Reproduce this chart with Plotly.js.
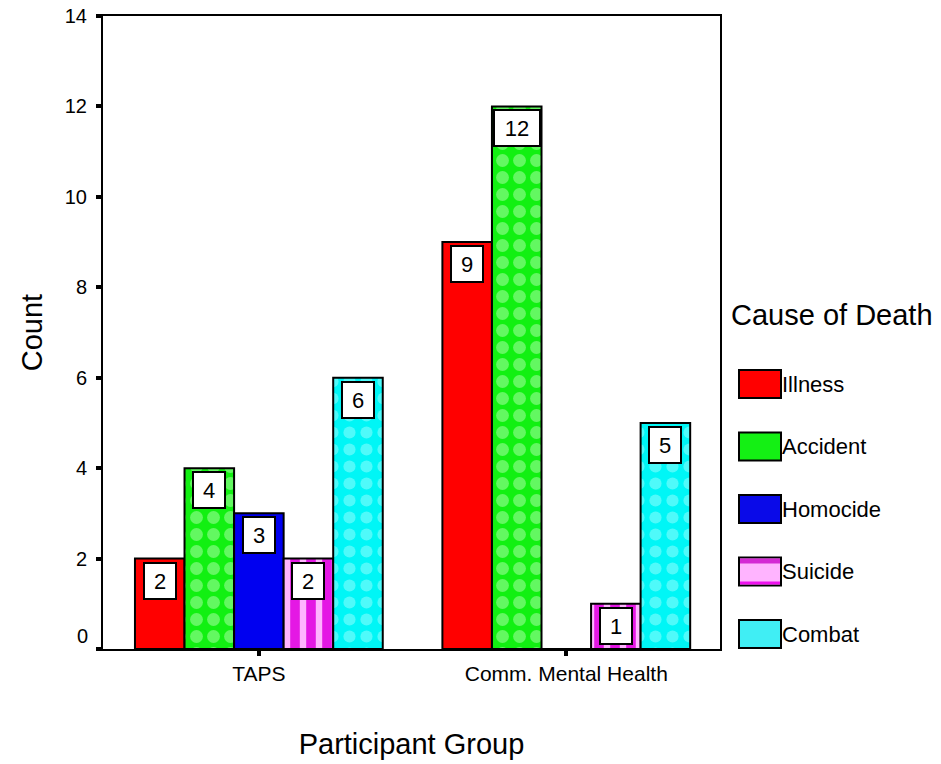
<!DOCTYPE html>
<html>
<head>
<meta charset="utf-8">
<script src="https://cdn.plot.ly/plotly-3.0.1.min.js"></script>
<style>
  html, body { margin: 0; padding: 0; background: #ffffff; }
  #chart { width: 941px; height: 764px; }
</style>
</head>
<body>
<div id="chart"></div>
<script>
// Participant groups on the x axis
const groups = ['TAPS', 'Comm. Mental Health'];

// Causes of death (one bar series each)
const causes = ['Illness', 'Accident', 'Homocide', 'Suicide', 'Combat'];

// Counts per group, one array per cause
const illness  = [2, 9];
const accident = [4, 12];
const homocide = [3, 0];
const suicide  = [2, 1];
const combat   = [6, 5];

// Y axis ticks
const yTickVals = [0, 2, 4, 6, 8, 10, 12, 14];

const series = [illness, accident, homocide, suicide, combat];

// Fill styles per cause
const styles = [
  { color: '#ff0000', pattern: null, legend: '#ff0000' },
  { color: '#12f012', pattern: { shape: '.', bgcolor: '#12f012', fgcolor: '#b4ffb0', fgopacity: 0.5, size: 17, solidity: 0.45 }, legend: '#14f014' },
  { color: '#0000f0', pattern: null, legend: '#0a0ae8' },
  { color: '#ee18ee', pattern: { shape: '|', bgcolor: '#e418e4', fgcolor: '#ffb4ff', fgopacity: 1, size: 16, solidity: 0.4 }, legend: '#ffb4ff' },
  { color: '#00ffff', pattern: { shape: '.', bgcolor: '#00f6f6', fgcolor: '#b0ffff', fgopacity: 0.45, size: 17, solidity: 0.4 }, legend: '#40eef4' }
];

const FONT = 'Liberation Sans, Arial, Helvetica, sans-serif';
const bargap = 0.194;
const barW = (1 - bargap) / causes.length;

const traces = causes.map((name, i) => {
  const marker = { color: styles[i].color, line: { color: '#000000', width: 2 } };
  if (styles[i].pattern) marker.pattern = Object.assign({ fillmode: 'replace' }, styles[i].pattern);
  return {
    type: 'bar',
    name: name,
    x: groups,
    y: series[i],
    marker: marker,
    showlegend: false,
    hoverinfo: 'x+y+name'
  };
});

// Value labels: white boxes near the top of each bar
const annotations = [];
series.forEach((vals, i) => {
  vals.forEach((v, j) => {
    if (v <= 0) return;
    const txt = String(v);
    annotations.push({
      xref: 'x', yref: 'y',
      x: j + (i - (causes.length - 1) / 2) * barW,
      y: v,
      yanchor: 'top', xanchor: 'center',
      yshift: -3,
      text: txt,
      showarrow: false,
      font: { family: FONT, size: 22, color: '#000000' },
      bgcolor: '#ffffff',
      bordercolor: '#000000',
      borderwidth: 2,
      borderpad: 0,
      width: txt.length > 1 ? 44 : 30,
      height: 34
    });
  });
});

// Zero tick label sits slightly above its tick
annotations.push({
  xref: 'paper', yref: 'y',
  x: 0, y: yTickVals[0],
  xanchor: 'right', yanchor: 'middle',
  xshift: -13, yshift: 13,
  text: String(yTickVals[0]),
  showarrow: false,
  font: { family: FONT, size: 20, color: '#000000' }
});

// Legend, drawn in paper coordinates to the right of the plot
const shapes = [];
const plotL = 103, plotR = 720, plotT = 16, plotB = 649;
const px = v => (v - plotL) / (plotR - plotL);
const py = v => (plotB - v) / (plotB - plotT);
annotations.push({
  xref: 'paper', yref: 'paper',
  x: px(729), y: py(315),
  xanchor: 'left', yanchor: 'middle',
  text: 'Cause of Death',
  showarrow: false,
  font: { family: FONT, size: 29, color: '#000000' }
});
causes.forEach((name, i) => {
  const cy = 384 + i * 62.5;
  shapes.push({
    type: 'rect', xref: 'paper', yref: 'paper',
    x0: px(739), x1: px(781), y0: py(cy + 14), y1: py(cy - 14),
    fillcolor: styles[i].legend,
    line: { color: '#000000', width: 2 }
  });
  annotations.push({
    xref: 'paper', yref: 'paper',
    x: px(780), y: py(cy),
    xanchor: 'left', yanchor: 'middle',
    text: name,
    showarrow: false,
    font: { family: FONT, size: 22, color: '#000000' }
  });
});

// Banded swatch for Suicide (magenta edges around the pink fill)
{
  const cy = 384 + 3 * 62.5;
  shapes.push({
    type: 'rect', xref: 'paper', yref: 'paper', layer: 'above',
    x0: px(740), x1: px(780), y0: py(cy - 8), y1: py(cy - 13),
    fillcolor: '#d42ad4', line: { width: 0 }
  });
  shapes.push({
    type: 'rect', xref: 'paper', yref: 'paper', layer: 'above',
    x0: px(740), x1: px(780), y0: py(cy + 13), y1: py(cy + 10),
    fillcolor: '#ee10ee', line: { width: 0 }
  });
}

const layout = {
  width: 941,
  height: 764,
  margin: { l: plotL, r: 941 - plotR, t: plotT, b: 764 - plotB },
  paper_bgcolor: '#ffffff',
  plot_bgcolor: '#ffffff',
  barmode: 'group',
  bargap: bargap,
  bargroupgap: 0,
  showlegend: false,
  font: { family: FONT, color: '#000000' },
  xaxis: {
    type: 'category',
    range: [-0.507, 1.5],
    showline: true, linecolor: '#000000', linewidth: 2, mirror: true,
    ticks: 'outside', ticklen: 5, tickwidth: 4, tickcolor: '#000000',
    showgrid: false, zeroline: false,
    tickfont: { family: FONT, size: 21, color: '#000000' },
    title: { text: 'Participant Group', font: { family: FONT, size: 29, color: '#000000' }, standoff: 49 }
  },
  yaxis: {
    range: [0, 14],
    tickvals: yTickVals,
    ticktext: yTickVals.map(v => v === yTickVals[0] ? '' : String(v)),
    showline: true, linecolor: '#000000', linewidth: 2, mirror: true,
    ticks: 'outside', ticklen: 5, tickwidth: 4, tickcolor: '#000000',
    ticklabelstandoff: 5,
    showgrid: false, zeroline: false,
    tickfont: { family: FONT, size: 20, color: '#000000' },
    title: { text: 'Count', font: { family: FONT, size: 29, color: '#000000' }, standoff: 14 }
  },
  annotations: annotations,
  shapes: shapes
};

Plotly.newPlot('chart', traces, layout, { displayModeBar: false, staticPlot: true });
</script>
</body>
</html>
